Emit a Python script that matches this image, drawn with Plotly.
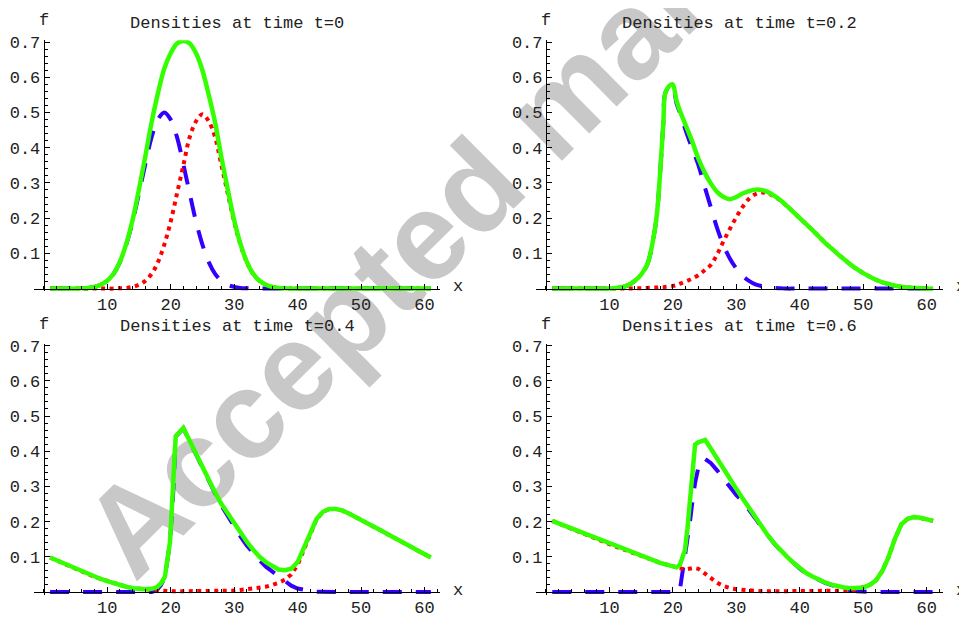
import math
import plotly.graph_objects as go

# ---------------- data ----------------
titles = ["Densities at time t=0", "Densities at time t=0.2",
          "Densities at time t=0.4", "Densities at time t=0.6"]

x_ticks = [10, 20, 30, 40, 50, 60]
x_tick_text = ["10", "20", "30", "40", "50", "60"]
y_ticks = [0.1, 0.2, 0.3, 0.4, 0.5, 0.6, 0.7]
y_tick_text = ["0.1", "0.2", "0.3", "0.4", "0.5", "0.6", "0.7"]
x_minor = [0, 2, 4, 6, 8, 12, 14, 16, 18, 22, 24, 26, 28, 32, 34, 36, 38,
           42, 44, 46, 48, 52, 54, 56, 58, 62]
y_minor = [0.02, 0.04, 0.06, 0.08, 0.12, 0.14, 0.16, 0.18, 0.22, 0.24, 0.26, 0.28,
           0.32, 0.34, 0.36, 0.38, 0.42, 0.44, 0.46, 0.48, 0.52, 0.54, 0.56, 0.58,
           0.62, 0.64, 0.66, 0.68]
watermark = "Accepted manuscript"

# t = 0
x_t0 = list(range(1, 62))
blue_t0 = [0, 0, 0, 0, 0, 0.001, 0.002, 0.005, 0.011, 0.022, 0.042, 0.075, 0.125, 0.19,
           0.27, 0.353, 0.43, 0.48, 0.5, 0.48, 0.43, 0.353, 0.27, 0.19, 0.125, 0.075,
           0.042, 0.022, 0.011, 0.005, 0.002, 0.001] + [0] * 29
red_t0 = [0] * 11 + [0.001, 0.002, 0.005, 0.011, 0.022, 0.042, 0.075, 0.125, 0.19, 0.27,
                     0.35, 0.43, 0.475, 0.495, 0.475, 0.43, 0.35, 0.27, 0.19, 0.125,
                     0.075, 0.042, 0.022, 0.011, 0.005, 0.002, 0.001] + [0] * 23
green_t0 = [0, 0, 0, 0, 0, 0.001, 0.002, 0.005, 0.011, 0.022, 0.042, 0.076, 0.127, 0.195,
            0.281, 0.375, 0.472, 0.555, 0.625, 0.668, 0.696, 0.703, 0.696, 0.668, 0.62,
            0.55, 0.472, 0.372, 0.281, 0.195, 0.127, 0.076, 0.042, 0.022, 0.011, 0.005,
            0.002, 0.001] + [0] * 23

# t = 0.2
x_t02 = [1, 2, 3, 4, 5, 6, 7, 8, 9, 10, 11, 12, 13, 14, 15, 16, 17, 17.5, 18, 18.5,
         18.9, 19.9, 20.6, 21, 22, 23, 24, 25, 26, 27, 28, 29, 30, 31, 32, 33, 34, 35,
         36, 37, 38, 39, 40, 41, 42, 43, 44, 45, 46, 47, 48, 49, 50, 51, 52, 53, 54,
         55, 56, 57, 58, 59, 60, 61]
green_t02 = [0, 0, 0, 0, 0, 0, 0, 0, 0, 0, 0.002, 0.004, 0.01, 0.022, 0.04, 0.07, 0.15,
             0.213, 0.33, 0.47, 0.56, 0.58, 0.532, 0.51, 0.465, 0.42, 0.37, 0.33, 0.298,
             0.274, 0.26, 0.254, 0.26, 0.27, 0.277, 0.281, 0.28, 0.274, 0.263, 0.25,
             0.234, 0.217, 0.2, 0.183, 0.166, 0.148, 0.13, 0.114, 0.098, 0.083, 0.068,
             0.055, 0.044, 0.034, 0.025, 0.018, 0.013, 0.008, 0.005, 0.003, 0.002,
             0.001, 0, 0]
blue_t02 = [0, 0, 0, 0, 0, 0, 0, 0, 0, 0, 0.002, 0.004, 0.01, 0.022, 0.04, 0.07, 0.15,
            0.213, 0.33, 0.47, 0.56, 0.575, 0.525, 0.505, 0.45, 0.4, 0.352, 0.29, 0.23,
            0.17, 0.122, 0.085, 0.057, 0.036, 0.022, 0.012, 0.007, 0.004, 0.002, 0.001,
            0, 0, 0, 0, 0, 0, 0, 0, 0, 0, 0, 0, 0, 0, 0, 0, 0, 0, 0, 0, 0, 0, 0, 0]
red_t02 = [0, 0, 0, 0, 0, 0, 0, 0, 0, 0, 0, 0, 0, 0.001, 0.001, 0.002, 0.003, 0.003,
           0.004, 0.004, 0.005, 0.007, 0.01, 0.013, 0.02, 0.028, 0.038, 0.052, 0.068,
           0.098, 0.135, 0.17, 0.203, 0.232, 0.255, 0.268, 0.273, 0.27, 0.261, 0.249,
           0.234, 0.217, 0.2, 0.183, 0.166, 0.148, 0.13, 0.114, 0.098, 0.083, 0.068,
           0.055, 0.044, 0.034, 0.025, 0.018, 0.013, 0.008, 0.005, 0.003, 0.002,
           0.001, 0, 0]

# t = 0.4
x_t04 = [1, 2, 3, 4, 5, 6, 7, 8, 9, 10, 11, 12, 13, 14, 15, 16, 17, 17.8, 18.5, 19.1,
         19.9, 20.4, 20.8, 22, 23, 24, 25, 26, 27, 28, 29, 30, 31, 32, 33, 34, 35, 36,
         37, 38, 39, 40, 41, 42, 43, 44, 45, 46, 47, 48, 49, 50, 51, 52, 53, 54, 55,
         56, 57, 58, 59, 60, 61]
green_t04 = [0.098, 0.09, 0.083, 0.075, 0.066, 0.058, 0.05, 0.043, 0.037, 0.031, 0.025,
             0.02, 0.015, 0.011, 0.009, 0.008, 0.009, 0.013, 0.025, 0.044, 0.143, 0.283,
             0.443, 0.466, 0.428, 0.39, 0.354, 0.318, 0.283, 0.25, 0.222, 0.195, 0.168,
             0.143, 0.12, 0.1, 0.085, 0.073, 0.064, 0.062, 0.066, 0.085, 0.126, 0.17,
             0.208, 0.228, 0.236, 0.236, 0.232, 0.224, 0.215, 0.206, 0.197, 0.188,
             0.176, 0.166, 0.157, 0.148, 0.138, 0.127, 0.117, 0.107, 0.098]
blue_t04 = [0, 0, 0, 0, 0, 0, 0, 0, 0, 0, 0, 0, 0, 0, 0, 0, 0, 0.005, 0.02, 0.042,
            0.142, 0.282, 0.442, 0.465, 0.427, 0.389, 0.353, 0.316, 0.28, 0.245, 0.215,
            0.185, 0.158, 0.132, 0.109, 0.09, 0.072, 0.058, 0.044, 0.03, 0.018, 0.01,
            0.006, 0.003, 0.001, 0, 0, 0, 0, 0, 0, 0, 0, 0, 0, 0, 0, 0, 0, 0, 0, 0, 0]
red_t04 = [0.098, 0.09, 0.083, 0.075, 0.066, 0.058, 0.05, 0.043, 0.037, 0.031, 0.025,
           0.02, 0.015, 0.011, 0.009, 0.008, 0.007, 0.006, 0.004, 0.003, 0.002, 0.002,
           0.002, 0.002, 0.002, 0.002, 0.002, 0.002, 0.002, 0.002, 0.003, 0.004, 0.006,
           0.008, 0.01, 0.012, 0.015, 0.02, 0.026, 0.035, 0.05, 0.077, 0.12, 0.168,
           0.207, 0.228, 0.236, 0.236, 0.232, 0.224, 0.215, 0.206, 0.197, 0.188, 0.176,
           0.166, 0.157, 0.148, 0.138, 0.127, 0.117, 0.107, 0.098]

# t = 0.6
x_t06 = [1, 2, 3, 4, 5, 6, 7, 8, 9, 10, 11, 12, 13, 14, 15, 16, 17, 18, 19, 20, 20.6,
         21.1, 21.5, 21.9, 22.3, 22.7, 23.1, 23.5, 24, 24.5, 25.1, 26, 27, 28, 29, 30,
         31, 32, 33, 34, 35, 36, 37, 38, 39, 40, 41, 42, 43, 44, 45, 46, 47, 48, 49, 50,
         51, 52, 53, 54, 55, 56, 57, 58, 59, 60, 61]
green_t06 = [0.202, 0.195, 0.188, 0.181, 0.174, 0.166, 0.158, 0.151, 0.143, 0.136, 0.129,
             0.122, 0.115, 0.108, 0.101, 0.095, 0.089, 0.083, 0.078, 0.073, 0.07, 0.077,
             0.095, 0.119, 0.18, 0.255, 0.34, 0.419, 0.425, 0.429, 0.432, 0.407, 0.377,
             0.347, 0.32, 0.293, 0.266, 0.239, 0.212, 0.185, 0.16, 0.138, 0.118, 0.1,
             0.083, 0.067, 0.054, 0.044, 0.035, 0.027, 0.021, 0.016, 0.013, 0.011, 0.011,
             0.013, 0.02, 0.033, 0.06, 0.1, 0.152, 0.192, 0.208, 0.213, 0.211, 0.207,
             0.202]
blue_t06 = [0, 0, 0, 0, 0, 0, 0, 0, 0, 0, 0, 0, 0, 0, 0, 0, 0, 0, 0, 0, 0, 0.005, 0.05,
            0.095, 0.14, 0.2, 0.26, 0.31, 0.352, 0.373, 0.378, 0.366, 0.345, 0.322, 0.298,
            0.275, 0.258, 0.235, 0.209, 0.183, 0.159, 0.137, 0.117, 0.099, 0.082, 0.066,
            0.053, 0.043, 0.034, 0.026, 0.02, 0.014, 0.009, 0.005, 0.002, 0, 0, 0, 0, 0,
            0, 0, 0, 0, 0, 0, 0]
red_t06 = [0.202, 0.195, 0.188, 0.181, 0.174, 0.166, 0.158, 0.151, 0.143, 0.136, 0.129,
           0.122, 0.115, 0.108, 0.101, 0.095, 0.089, 0.083, 0.078, 0.073, 0.069, 0.066,
           0.064, 0.064, 0.065, 0.067, 0.068, 0.068, 0.066, 0.06, 0.052, 0.038, 0.026,
           0.017, 0.011, 0.008, 0.006, 0.004, 0.003, 0.002, 0.002, 0.002, 0.002, 0.002,
           0.002, 0.002, 0.002, 0.002, 0.002, 0.002, 0.002, 0.002, 0.002, 0.004, 0.008,
           0.013, 0.02, 0.033, 0.06, 0.1, 0.152, 0.192, 0.208, 0.213, 0.211, 0.207, 0.202]

panels = [
    (x_t0, blue_t0, red_t0, green_t0),
    (x_t02, blue_t02, red_t02, green_t02),
    (x_t04, blue_t04, red_t04, green_t04),
    (x_t06, blue_t06, red_t06, green_t06),
]
line_shapes = ["spline", "spline", "linear", "linear"]

# ---------------- layout geometry ----------------
W, H = 967, 617
OFF_X, OFF_Y = 8, 12  # offset of the figure inside the page; targets are screen px


def fx(px):
    return (px - OFF_X) / W


def fy(py):
    return 1 - (py - OFF_Y) / H


X_RANGE = [-1.5, 62.5]
Y_RANGE = [-0.008, 0.705]
# screen-pixel geometry of each panel: (x-domain left, right), y px of value 0, px per unit y
panel_px = [
    ((34.2, 440.4), 289.3, 355.7),
    ((536.4, 942.6), 289.3, 355.7),
    ((34.2, 440.4), 595.7, 355.5),
    ((536.4, 942.6), 595.7, 355.5),
]
title_px = [(237, 22), (739, 22), (237, 328), (739, 328)]

BLUE = "#3300ff"
RED = "#ff0000"
GREEN = "#33ff00"
FONT = "Liberation Mono"
TXT = "#222222"

fig = go.Figure()
layout = dict(width=W, height=H, margin=dict(l=0, r=0, t=0, b=0),
              paper_bgcolor="white", plot_bgcolor="rgba(0,0,0,0)", showlegend=False)
annotations = []

for i, (xs, yb, yr, yg) in enumerate(panels):
    n = "" if i == 0 else str(i + 1)
    xa, ya = "x" + n, "y" + n
    shp = line_shapes[i]
    fig.add_trace(go.Scatter(x=xs, y=yb, xaxis=xa, yaxis=ya, mode="lines",
                             line=dict(color=BLUE, width=4, dash="19px,14px", shape=shp),
                             hoverinfo="skip"))
    fig.add_trace(go.Scatter(x=xs, y=yr, xaxis=xa, yaxis=ya, mode="lines",
                             line=dict(color=RED, width=4, dash="4px,4.5px", shape=shp),
                             hoverinfo="skip"))
    fig.add_trace(go.Scatter(x=xs, y=yg, xaxis=xa, yaxis=ya, mode="lines",
                             line=dict(color=GREEN, width=4.5, shape=shp),
                             hoverinfo="skip"))

    (dl, dr), y0px, ppu = panel_px[i]
    ybot = y0px - Y_RANGE[0] * ppu
    ytop = y0px - Y_RANGE[1] * ppu
    xpx0 = dl + (0 - X_RANGE[0]) / (X_RANGE[1] - X_RANGE[0]) * (dr - dl)
    layout["xaxis" + n] = dict(
        domain=[fx(dl), fx(dr)], range=X_RANGE, anchor="free", position=fy(y0px),
        showline=True, linecolor="black", linewidth=1, showgrid=False, zeroline=False,
        ticks="inside", ticklen=5, tickwidth=1, tickcolor="black",
        tickmode="array", tickvals=x_ticks, ticktext=x_tick_text,
        minor=dict(tickmode="array", tickvals=x_minor, ticks="inside", ticklen=3,
                   tickwidth=1, tickcolor="black", showgrid=False),
        tickfont=dict(family=FONT, size=17, color=TXT), fixedrange=True)
    layout["yaxis" + n] = dict(
        domain=[fy(ybot), fy(ytop)], range=Y_RANGE, anchor="free",
        position=fx(xpx0),
        showline=True, linecolor="black", linewidth=1, showgrid=False, zeroline=False,
        ticks="inside", ticklen=5, tickwidth=1, tickcolor="black",
        tickmode="array", tickvals=y_ticks, ticktext=y_tick_text,
        minor=dict(tickmode="array", tickvals=y_minor, ticks="inside", ticklen=3,
                   tickwidth=1, tickcolor="black", showgrid=False),
        tickfont=dict(family=FONT, size=17, color=TXT), fixedrange=True)

    tx, ty = title_px[i]
    annotations.append(dict(text=titles[i], x=fx(tx), y=fy(ty), xref="paper",
                            yref="paper", showarrow=False, xanchor="center",
                            yanchor="middle", font=dict(family=FONT, size=17, color=TXT)))
    annotations.append(dict(text="f", x=fx(xpx0), y=fy(ytop - 20), xref="paper",
                            yref="paper", showarrow=False, xanchor="center",
                            yanchor="middle", font=dict(family=FONT, size=17, color=TXT)))
    annotations.append(dict(text="x", x=fx(dr + 18), y=fy(y0px - 2), xref="paper",
                            yref="paper", showarrow=False, xanchor="center",
                            yanchor="middle", font=dict(family=FONT, size=17, color=TXT)))

# watermark (drawn beneath the curves)
cx, cy, half, ang_deg = 544, 100, 320, 45
ang = math.radians(ang_deg)
wx0, wy0 = cx - half * math.cos(ang), cy + half * math.sin(ang)
wx1, wy1 = cx + half * math.cos(ang), cy - half * math.sin(ang)
shapes = [dict(type="line", xref="paper", yref="paper",
               x0=fx(wx0), y0=fy(wy0), x1=fx(wx1), y1=fy(wy1),
               line=dict(width=0, color="rgba(0,0,0,0)"), layer="below",
               label=dict(text=watermark, textposition="middle",
                          yanchor="middle", xanchor="center",
                          font=dict(family="Liberation Sans", size=124,
                                    color="#c8c8c8", weight="bold")))]

layout["annotations"] = annotations
layout["shapes"] = shapes
fig.update_layout(**layout)
fig.write_html("out.html")
